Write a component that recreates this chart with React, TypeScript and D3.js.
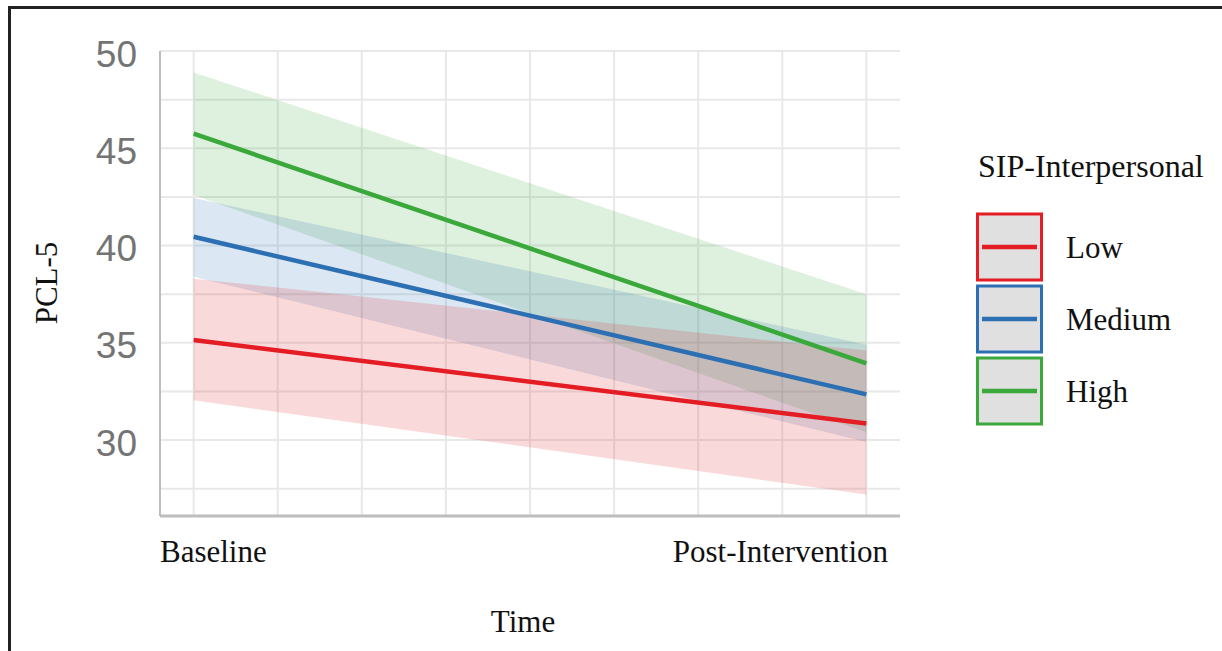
import React from "react";
import * as d3 from "d3";

// time points (0 = Baseline, 1 = Post-Intervention)
const timePoints = [0, 1];
const timeLabels = ["Baseline", "Post-Intervention"];

const groupNames = ["Low", "Medium", "High"];
const groupColors = ["#e31d23", "#2c6fb3", "#3aa83a"];

// predicted PCL-5 and confidence band per group
const lowMean = [35.15, 30.85];
const lowLower = [32.05, 27.2];
const lowUpper = [38.3, 34.6];

const mediumMean = [40.45, 32.35];
const mediumLower = [38.4, 29.9];
const mediumUpper = [42.45, 34.9];

const highMean = [45.75, 33.95];
const highLower = [42.6, 30.4];
const highUpper = [48.9, 37.5];

const yTicks = [30, 35, 40, 45, 50];
const yMinor = [27.5, 32.5, 37.5, 42.5, 47.5];

const W = 1222;
const H = 651;

const serif = "'Liberation Serif', 'Times New Roman', serif";
const sans = "'Liberation Sans', Arial, sans-serif";

type Series = { name: string; color: string; mean: number[]; lo: number[]; hi: number[] };

export default function App() {
  const x = d3.scaleLinear().domain([-0.05, 1.05]).range([160, 900]);
  const y = d3.scaleLinear().domain([26.1, 50]).range([516, 51]);

  const series: Series[] = [
    { name: groupNames[0], color: groupColors[0], mean: lowMean, lo: lowLower, hi: lowUpper },
    { name: groupNames[1], color: groupColors[1], mean: mediumMean, lo: mediumLower, hi: mediumUpper },
    { name: groupNames[2], color: groupColors[2], mean: highMean, lo: highLower, hi: highUpper },
  ];

  const idx = timePoints.map((_, i) => i);

  const band = (s: Series) =>
    d3
      .area<number>()
      .x((i) => x(timePoints[i]))
      .y0((i) => y(s.lo[i]))
      .y1((i) => y(s.hi[i]))(idx);

  const line = (s: Series) =>
    d3
      .line<number>()
      .x((i) => x(timePoints[i]))
      .y((i) => y(s.mean[i]))(idx);

  const vGrid = d3.range(0, 1.0001, 0.125);
  const [x0, x1] = x.range();
  const [yb, yt] = y.range();

  return (
    <svg
      width={W}
      height={H}
      style={{ position: "absolute", left: 0, top: 0, background: "#fff" }}
    >
      {/* frame (right and bottom edges fall outside the picture) */}
      <path d="M9.5,700 V7.5 H1240" fill="none" stroke="#222" strokeWidth={3} />

      {/* grid */}
      <g stroke="#e8e8e8" strokeWidth={2}>
        {[...yMinor, ...yTicks].map((v) => (
          <line key={"h" + v} x1={x0} x2={x1} y1={y(v)} y2={y(v)} />
        ))}
        {vGrid.map((v) => (
          <line key={"v" + v} x1={x(v)} x2={x(v)} y1={yt} y2={yb} />
        ))}
      </g>

      {/* confidence bands */}
      {series
        .slice()
        .reverse()
        .map((s) => (
          <path key={"b" + s.name} d={band(s) || ""} fill={s.color} fillOpacity={0.17} />
        ))}

      {/* lines */}
      {series.map((s) => (
        <path
          key={"l" + s.name}
          d={line(s) || ""}
          fill="none"
          stroke={s.color}
          strokeWidth={4.5}
        />
      ))}

      {/* axes */}
      <line x1={x0} x2={x0} y1={yt} y2={yb} stroke="#bdbdbd" strokeWidth={2} />
      <line x1={x0} x2={x1} y1={yb} y2={yb} stroke="#bdbdbd" strokeWidth={3} />

      {/* y tick labels */}
      {yTicks.map((v) => (
        <text
          key={"t" + v}
          x={137}
          y={y(v) + 3}
          textAnchor="end"
          dominantBaseline="central"
          fontFamily={sans}
          fontSize={37}
          fill="#747474"
        >
          {v}
        </text>
      ))}

      {/* x tick labels */}
      <text x={160} y={562} fontFamily={serif} fontSize={31} fill="#111">
        {timeLabels[0]}
      </text>
      <text x={888} y={562} textAnchor="end" fontFamily={serif} fontSize={31} fill="#111">
        {timeLabels[1]}
      </text>

      {/* axis titles */}
      <text x={523} y={632} textAnchor="middle" fontFamily={serif} fontSize={31} fill="#111">
        Time
      </text>
      <text
        transform="translate(57,283) rotate(-90)"
        textAnchor="middle"
        fontFamily={serif}
        fontSize={31}
        fill="#111"
      >
        PCL-5
      </text>

      {/* legend */}
      <text x={978} y={177} fontFamily={serif} fontSize={32} fill="#111">
        SIP-Interpersonal
      </text>
      {series.map((s, i) => {
        const by = 214 + i * 72;
        return (
          <g key={"lg" + s.name}>
            <rect
              x={977.5}
              y={by}
              width={64}
              height={66}
              fill="#e0e0e0"
              stroke={s.color}
              strokeWidth={3}
            />
            <line
              x1={982}
              x2={1037}
              y1={by + 33}
              y2={by + 33}
              stroke={s.color}
              strokeWidth={4.5}
            />
            <text x={1066} y={by + 44} fontFamily={serif} fontSize={31} fill="#111">
              {s.name}
            </text>
          </g>
        );
      })}
    </svg>
  );
}
